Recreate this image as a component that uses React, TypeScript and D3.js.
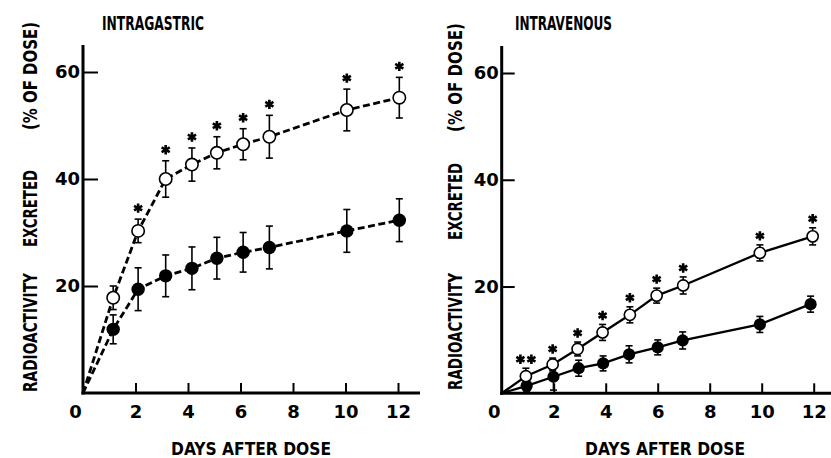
import * as d3 from 'd3';
import { useEffect, useRef } from 'react';

// values (% of dose), x = day the point was plotted at
const igDays = [1.15, 2.1, 3.15, 4.15, 5.1, 6.1, 7.1, 10.05, 12.05];
const igOpenMean = [17.8, 30.3, 40.0, 42.7, 44.9, 46.5, 47.9, 52.9, 55.2];
const igOpenErr = [2.2, 2.2, 3.4, 3.1, 3.0, 2.9, 4.0, 3.9, 3.8];
const igFilledMean = [11.9, 19.4, 21.9, 23.3, 25.2, 26.3, 27.2, 30.3, 32.3];
const igFilledErr = [2.7, 4.0, 3.9, 4.0, 3.9, 3.7, 4.0, 4.0, 4.0];
const igStars = [0, 1, 1, 1, 1, 1, 1, 1, 1];

const ivOpenDays = [0.93, 1.96, 2.92, 3.88, 4.93, 5.96, 6.98, 9.93, 11.96];
const ivOpenMean = [3.2, 5.4, 8.3, 11.4, 14.7, 18.3, 20.2, 26.3, 29.4];
const ivOpenErr = [1.5, 1.2, 1.3, 1.5, 1.5, 1.4, 1.6, 1.5, 1.6];
const ivFilledDays = [0.96, 1.99, 2.96, 3.9, 4.9, 6.0, 6.96, 9.93, 11.88];
const ivFilledMean = [1.4, 3.1, 4.7, 5.6, 7.3, 8.6, 9.9, 12.9, 16.7];
const ivFilledErr = [1.0, 2.5, 1.5, 1.4, 1.6, 1.4, 1.6, 1.5, 1.5];
const ivStars = [2, 1, 1, 1, 1, 1, 1, 1, 1];

const xTicks = [0, 2, 4, 6, 8, 10, 12];
const yTicks = [20, 40, 60];

const labelFont = "'DejaVu Sans Condensed', 'DejaVu Sans', sans-serif";
const tickFont = "'DejaVu Sans', sans-serif";

const starPath = d3.symbol().type(d3.symbolAsterisk).size(62)();

const Panel = ({
  title,
  x0,
  x12,
  y0,
  y60,
  axisTop,
  axisRight,
  yLabelX,
  titleX,
  titleLen,
  xLabelX,
  yLabelSpans,
  openDays,
  openMean,
  openErr,
  filledDays,
  filledMean,
  filledErr,
  stars,
  dashed,
  r,
  ytickLen,
  starGap,
}) => {
  const gx = useRef();
  const gy = useRef();
  const xScale = d3.scaleLinear().domain([0, 12]).range([x0, x12]);
  const yScale = d3.scaleLinear().domain([0, 60]).range([y0, y60]);

  useEffect(() => {
    const ax = d3
      .select(gx.current)
      .call(d3.axisBottom(xScale).tickValues(xTicks).tickSize(-10).tickPadding(12));
    ax.select('.domain').remove();
    ax.selectAll('.tick line').attr('stroke-width', 2).filter((d) => d === 0).remove();
    ax.selectAll('.tick text')
      .style('font-family', tickFont)
      .style('font-weight', 'bold')
      .style('font-size', '18px');
    ax.selectAll('.tick')
      .filter((d) => d === 0)
      .select('text')
      .attr('x', -8);

    const ay = d3
      .select(gy.current)
      .call(d3.axisLeft(yScale).tickValues(yTicks).tickSize(-ytickLen).tickPadding(3));
    ay.select('.domain').remove();
    ay.selectAll('.tick line').attr('stroke-width', 2);
    ay.selectAll('.tick text')
      .style('font-family', tickFont)
      .style('font-weight', 'bold')
      .style('font-size', '18px');
  }, [xScale, yScale]);

  const line = d3
    .line()
    .x((d) => xScale(d[0]))
    .y((d) => yScale(d[1]));
  const openPts = [[0, 0], ...openDays.map((d, i) => [d, openMean[i]])];
  const filledPts = [[0, 0], ...filledDays.map((d, i) => [d, filledMean[i]])];
  const dash = dashed ? '7,3.5' : null;
  const lw = dashed ? 2.8 : 2.3;

  const errBar = (x, m, e, key) => {
    const cx = xScale(x);
    const t = yScale(m + e);
    const b = yScale(Math.max(m - e, 0));
    return (
      <g key={key} stroke='#000' strokeWidth={1.6}>
        <line x1={cx} x2={cx} y1={t} y2={b} />
        <line x1={cx - 3.5} x2={cx + 3.5} y1={t} y2={t} />
        <line x1={cx - 3.5} x2={cx + 3.5} y1={b} y2={b} />
      </g>
    );
  };

  return (
    <g>
      <text
        x={titleX}
        y={30}
        fontFamily={labelFont}
        fontWeight='bold'
        fontSize={20}
        textLength={titleLen}
        lengthAdjust='spacingAndGlyphs'
      >
        {title}
      </text>
      {yLabelSpans.map(([word, a, b]) => (
        <text
          key={word}
          transform={`translate(${yLabelX},${(a + b) / 2}) rotate(-90)`}
          textAnchor='middle'
          fontFamily={labelFont}
          fontWeight='bold'
          fontSize={20}
          textLength={b - a}
          lengthAdjust='spacingAndGlyphs'
        >
          {word}
        </text>
      ))}
      <text
        x={xLabelX}
        y={455}
        fontFamily={labelFont}
        fontWeight='bold'
        fontSize={18}
        textLength={160}
        lengthAdjust='spacingAndGlyphs'
      >
        DAYS AFTER DOSE
      </text>

      <line x1={x0} x2={x0} y1={axisTop} y2={y0 + 1.5} stroke='#000' strokeWidth={3} />
      <line x1={x0 - 1.5} x2={axisRight} y1={y0} y2={y0} stroke='#000' strokeWidth={3} />
      <g ref={gx} transform={`translate(0, ${y0})`} />
      <g ref={gy} transform={`translate(${x0}, 0)`} />

      <path d={line(filledPts)} fill='none' stroke='#000' strokeWidth={lw} strokeDasharray={dash} />
      <path d={line(openPts)} fill='none' stroke='#000' strokeWidth={lw} strokeDasharray={dash} />

      {filledDays.map((d, i) => errBar(d, filledMean[i], filledErr[i], 'fe' + i))}
      {openDays.map((d, i) => errBar(d, openMean[i], openErr[i], 'oe' + i))}

      {filledDays.map((d, i) => (
        <circle key={'f' + i} cx={xScale(d)} cy={yScale(filledMean[i])} r={r + 0.5} fill='#000' />
      ))}
      {openDays.map((d, i) => (
        <circle
          key={'o' + i}
          cx={xScale(d)}
          cy={yScale(openMean[i])}
          r={r}
          fill='#fff'
          stroke='#000'
          strokeWidth={1.6}
        />
      ))}

      {openDays.map((d, i) => {
        const n = stars[i];
        if (!n) return null;
        const cy = yScale(openMean[i] + openErr[i]) - starGap;
        const offs = n === 2 ? [-5.5, 5.5] : [0];
        return offs.map((o, j) => (
          <path
            key={'s' + i + '-' + j}
            d={starPath}
            transform={`translate(${xScale(d) + o}, ${cy})`}
            fill='none'
            stroke='#000'
            strokeWidth={2.6}
          />
        ));
      })}
    </g>
  );
};

const App = () => {
  return (
    <svg
      width={831}
      height={458}
      style={{ position: 'absolute', left: 0, top: 0, background: '#fff' }}
    >
      <Panel
        title='INTRAGASTRIC'
        x0={83}
        x12={398}
        y0={393}
        y60={72}
        axisTop={45}
        axisRight={420}
        yLabelX={37}
        titleX={102}
        titleLen={102}
        xLabelX={171}
        yLabelSpans={[
          ['RADIOACTIVITY', 273, 392],
          ['EXCRETED', 170, 247],
          ['(% OF DOSE)', 22, 130],
        ]}
        openDays={igDays}
        openMean={igOpenMean}
        openErr={igOpenErr}
        filledDays={igDays}
        filledMean={igFilledMean}
        filledErr={igFilledErr}
        stars={igStars}
        dashed={true}
        r={6.2}
        ytickLen={15}
        starGap={11}
      />
      <Panel
        title='INTRAVENOUS'
        x0={501.7}
        x12={813.7}
        y0={393.3}
        y60={73}
        axisTop={46}
        axisRight={831}
        yLabelX={462}
        titleX={515}
        titleLen={97}
        xLabelX={585}
        yLabelSpans={[
          ['RADIOACTIVITY', 273, 390],
          ['EXCRETED', 163, 240],
          ['(% OF DOSE)', 23, 132],
        ]}
        openDays={ivOpenDays}
        openMean={ivOpenMean}
        openErr={ivOpenErr}
        filledDays={ivFilledDays}
        filledMean={ivFilledMean}
        filledErr={ivFilledErr}
        stars={ivStars}
        dashed={false}
        r={5.6}
        ytickLen={13}
        starGap={9}
      />
    </svg>
  );
};

export default App;
